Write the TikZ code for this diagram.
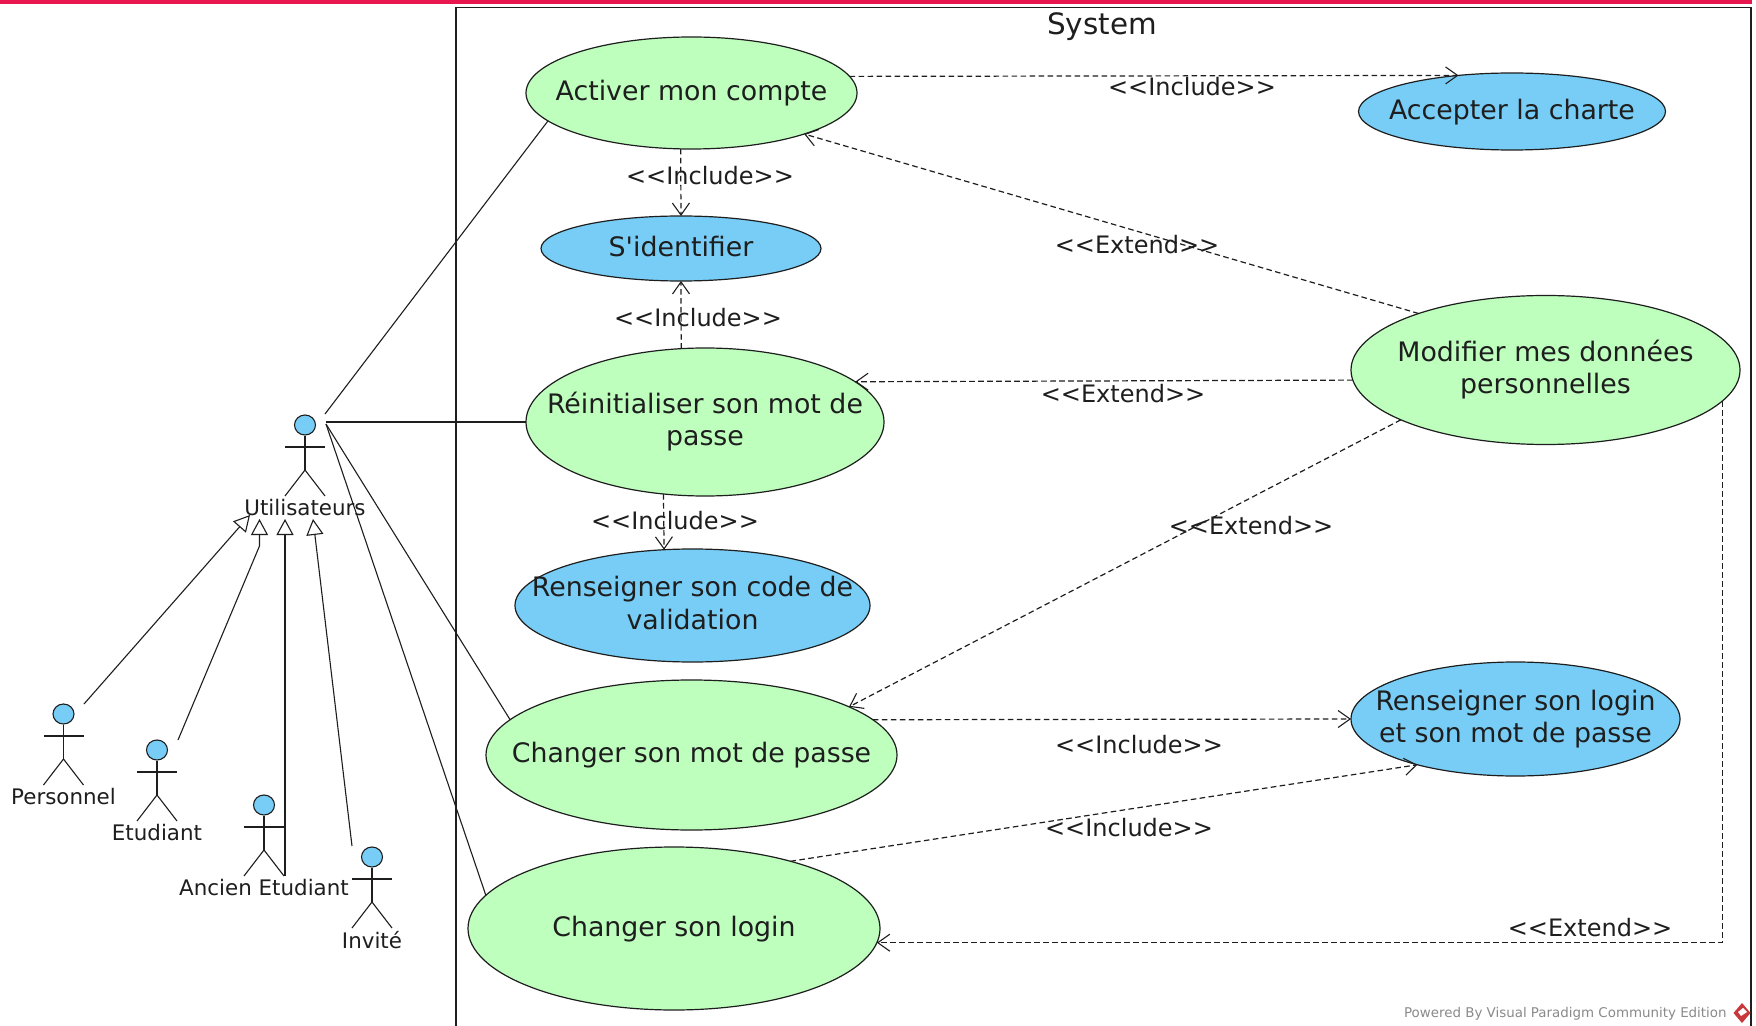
\documentclass[tikz,border=0pt]{standalone}
\usepackage{fontspec}
\setmainfont{DejaVu Sans}
\usetikzlibrary{arrows.meta,shapes.geometric,calc}
\definecolor{ucgreen}{HTML}{BEFFBE}
\definecolor{ucblue}{HTML}{78CDF6}
\definecolor{ink}{HTML}{1E1E1E}
\definecolor{topred}{HTML}{E8174F}
\definecolor{wm}{HTML}{8A8A8A}
\definecolor{wmred}{HTML}{C8383A}
\newcommand\uctext[1]{\raisebox{-8.3pt}{\makebox[0pt]{\smash{\begin{tabular}{@{}c@{}}#1\end{tabular}}}}}
\tikzset{
  uc/.style={ellipse,draw=ink,line width=.6pt,inner sep=0pt,outer sep=0pt,text=ink,font=\fontsize{13.4}{16.2}\selectfont},
  ucg/.style={uc,fill=ucgreen},
  ucb/.style={uc,fill=ucblue},
  sterlabel/.style={font=\fontsize{12}{14}\selectfont,text=ink,inner sep=0pt},
  actorlabel/.style={font=\fontsize{10.7}{12}\selectfont,text=ink,inner sep=0pt},
  stick/.style={draw=ink,line width=.55pt},
  assoc/.style={draw=ink,line width=.55pt},
  dep/.style={draw=ink,line width=.6pt,dash pattern=on 2.8pt off 1.7pt,-{Straight Barb[length=6pt,width=8.5pt,line width=.55pt]}},
  gen/.style={draw=ink,line width=.55pt,-{Triangle[open,fill=white,length=8pt,width=8.5pt,line width=.55pt]}},
}
% \actorfig{name}{head x}{head y}{label}
\newcommand\actorfig[4]{%
  \node[ellipse,draw=ink,fill=ucblue,line width=.55pt,minimum width=10.5pt,minimum height=10pt,inner sep=0pt] (#1) at (#2,#3) {};
  \draw[stick] (#1.south) -- ($(#2,#3)+(0,45)$) coordinate (#1hip);
  \draw[stick] ($(#2,#3)+(-20,22)$) -- ($(#2,#3)+(20,22)$);
  \draw[stick] ($(#2,#3)+(-20,71)$) -- (#1hip) -- ($(#2,#3)+(20,71)$);
  \node[actorlabel] (#1label) at ($(#2,#3)+(0,83)$) {#4};
}
\begin{document}
\begin{tikzpicture}[x=.5pt,y=-.5pt]
\useasboundingbox (0,0) rectangle (1756,1026);
\fill[white] (0,0) rectangle (1756,1026);
\fill[topred] (0,0) rectangle (1752,4);
% system boundary
\draw[draw=ink,line width=.7pt] (456,1026) -- (456,7.5) -- (1751,7.5) -- (1751,1026);
\node[font=\fontsize{14.7}{16}\selectfont,text=ink,inner sep=0pt] (systemtitle) at (1102,27) {System};
% use cases
\node[ucg,minimum width=165.5pt,minimum height=56pt] (act) at (691.5,93) {\uctext{Activer mon compte}};
\node[ucb,minimum width=153.5pt,minimum height=38.5pt] (acc) at (1512,111.5) {\uctext{Accepter la charte}};
\node[ucb,minimum width=140pt,minimum height=32.5pt] (sid) at (681,248.5) {\uctext{S\textquotesingle identifier}};
\node[ucg,minimum width=179pt,minimum height=74pt] (rei) at (705,422) {\uctext{Réinitialiser son mot de\\passe}};
\node[ucb,minimum width=177.5pt,minimum height=56.5pt] (cod) at (692.5,605.5) {\uctext{Renseigner son code de\\validation}};
\node[ucg,minimum width=205.5pt,minimum height=75pt] (chm) at (691.5,755) {\uctext{Changer son mot de passe}};
\node[ucg,minimum width=206pt,minimum height=81.5pt] (chl) at (674,928.5) {\uctext{Changer son login}};
\node[ucg,minimum width=194.5pt,minimum height=74.5pt] (mod) at (1545.5,370) {\uctext{Modifier mes données\\personnelles}};
\node[ucb,minimum width=164.5pt,minimum height=57pt] (rlo) at (1515.5,719) {\uctext{Renseigner son login\\et son mot de passe}};
% actors
\actorfig{usr}{305}{425}{Utilisateurs}
\actorfig{per}{63.5}{714}{Personnel}
\actorfig{etu}{157}{750}{Etudiant}
\actorfig{anc}{264}{805}{Ancien Etudiant}
\actorfig{inv}{372}{857}{Invité}
% connector ends on the actors
\coordinate (usrA) at (325,414);
\coordinate (usrB) at (326,422);
\coordinate (usrC) at (326,424);
\coordinate (genP) at (250,515);
\coordinate (genE) at (259.5,519);
\coordinate (genA) at (285,519);
\coordinate (genI) at (313,519);
\coordinate (perS) at (84,704);
\coordinate (etuS) at (178,740);
\coordinate (etuB) at (259.5,546);
\coordinate (ancS) at (285,876);
\coordinate (invS) at (352,846);
% associations
\draw[assoc] (usrA) -- (act.191.1);
\draw[assoc] (usrB) -- (rei.west);
\draw[assoc] (usrC) -- (chm.169.1);
\draw[assoc] (usrC) -- (chl.170.6);
% generalisations
\draw[gen] (perS) -- (genP);
\draw[gen] (etuS) -- (etuB) -- (genE);
\draw[gen] (ancS) -- (genA);
\draw[gen] (invS) -- (genI);
% dependencies
\draw[dep] (act.6.1) -- (acc.146.7);
\draw[dep] (act.259.4) -- (sid.north);
\draw[dep] (rei.108.1) -- (sid.south);
\draw[dep] (rei.240.3) -- (cod.117);
\draw[dep] (mod.156.8) -- (act.340.2);
\draw[dep] (mod.183) -- (rei.15.9);
\draw[dep] (mod.199.3) -- (chm.17.5);
\draw[dep] (chm.11.5) -- (rlo.west);
\draw[dep] (chl.30) -- (rlo.205.9);
\draw[dep] (mod.350.3) |- (chl.356);
% stereotypes
\node[sterlabel] (l1) at (1192,87) {<{}<Include>{}>};
\node[sterlabel] (l2) at (710,176) {<{}<Include>{}>};
\node[sterlabel] (l3) at (698,318) {<{}<Include>{}>};
\node[sterlabel] (l4) at (675,521) {<{}<Include>{}>};
\node[sterlabel] (l5) at (1137,245) {<{}<Extend>{}>};
\node[sterlabel] (l6) at (1123,394) {<{}<Extend>{}>};
\node[sterlabel] (l7) at (1251,526) {<{}<Extend>{}>};
\node[sterlabel] (l8) at (1139,745) {<{}<Include>{}>};
\node[sterlabel] (l9) at (1129,828) {<{}<Include>{}>};
\node[sterlabel] (l10) at (1590,928) {<{}<Extend>{}>};
% watermark
\node[font=\fontsize{6.7}{8}\selectfont,text=wm,inner sep=0pt,anchor=east] (wmark) at (1727,1014) {Powered By Visual Paradigm Community Edition};
\fill[wmred] (1742,1003) -- (1750.5,1013) -- (1742,1023) -- (1733.5,1013) -- cycle;
\fill[white] (1743,1008) -- (1747,1012) -- (1741,1016) -- (1738,1012) -- cycle;
\end{tikzpicture}
\end{document}
